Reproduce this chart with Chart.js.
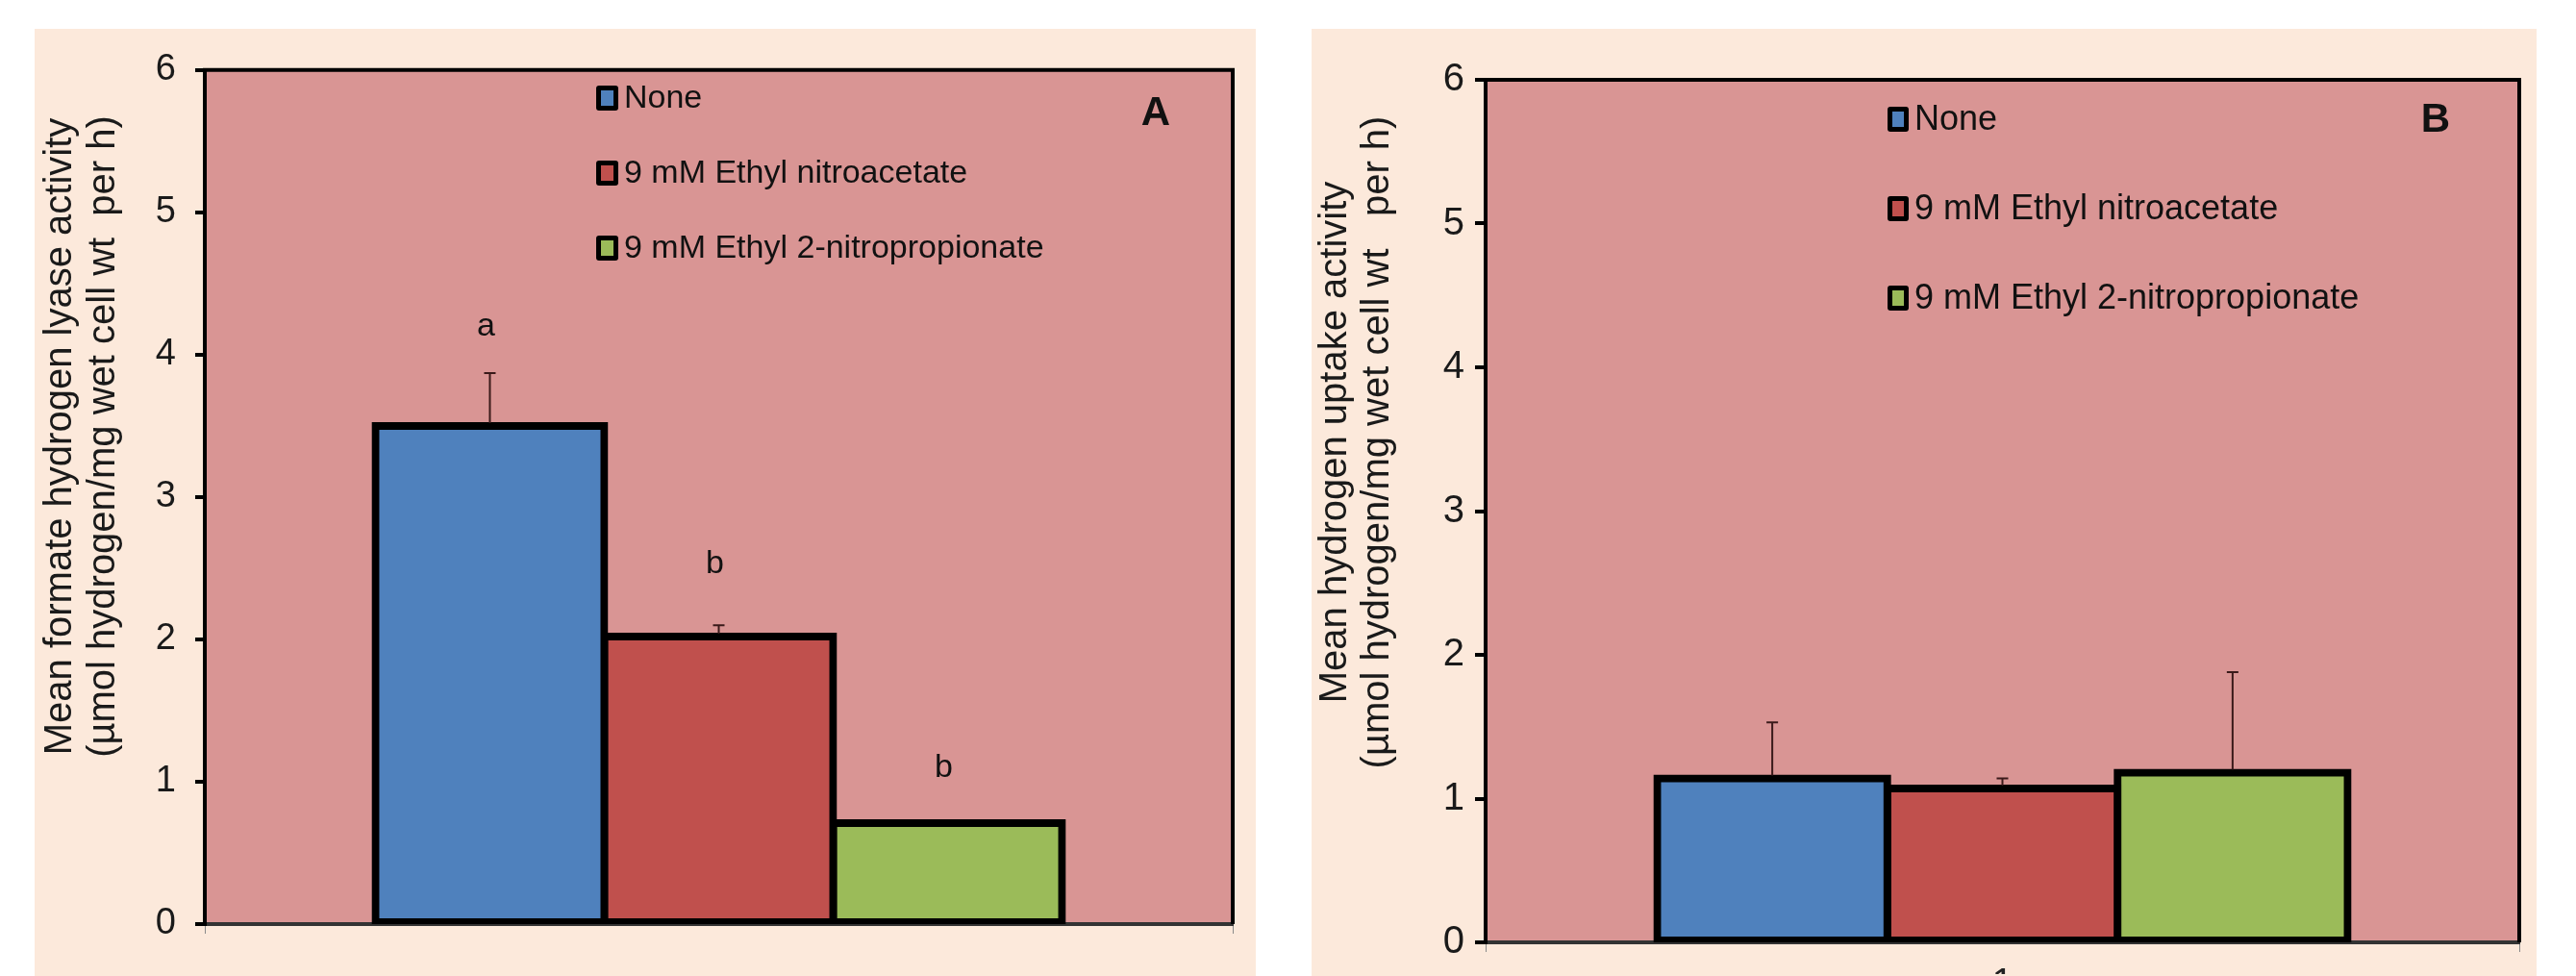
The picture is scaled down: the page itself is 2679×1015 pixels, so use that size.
<!DOCTYPE html>
<html>
<head>
<meta charset="utf-8">
<script src="https://cdn.jsdelivr.net/npm/chart.js@4.4.1/dist/chart.umd.min.js"></script>
<style>
  body { margin: 0; background: #ffffff; width: 2679px; height: 1015px; overflow: hidden; position: relative; }
  canvas { position: absolute; background: #FCE9DB; }
  #chartA { left: 36px; top: 30px; }
  #chartB { left: 1364px; top: 30px; }
</style>
</head>
<body>
<canvas id="chartA" width="1270" height="985"></canvas>
<canvas id="chartB" width="1274" height="985"></canvas>
<script>
// treatments shown in both panels
const treatments = ['None', '9 mM Ethyl nitroacetate', '9 mM Ethyl 2-nitropropionate'];
const barColors = ['#4F81BD', '#C0504D', '#9BBB59'];
const categories = ['1'];

// panel A: formate hydrogen lyase activity
const fhlMeans = [3.50, 2.02, 0.71];
const fhlErrTop = [3.87, 2.10, 0.71];
const fhlLetters = ['a', 'b', 'b'];
const fhlLetterY = [4.20, 2.53, 1.10];

// panel B: hydrogen uptake activity
const uptakeMeans = [1.14, 1.07, 1.18];
const uptakeErrTop = [1.53, 1.14, 1.88];

const yTicks = [0, 1, 2, 3, 4, 5, 6];

const FONT = "'Liberation Sans', Arial, sans-serif";
Chart.defaults.font.family = FONT;
Chart.defaults.font.size = 34;
Chart.defaults.color = '#1a1a1a';

// plot background + top/right frame
const framePlugin = {
    id: 'frame',
    beforeDraw(chart) {
        const a = chart.chartArea, ctx = chart.ctx;
        ctx.save();
        ctx.fillStyle = '#D99594';
        ctx.fillRect(a.left, a.top, a.right - a.left, a.bottom - a.top);
        ctx.restore();
    },
    afterDraw(chart) {
        const a = chart.chartArea, ctx = chart.ctx;
        ctx.save();
        ctx.strokeStyle = '#000';
        ctx.lineWidth = 4;
        ctx.beginPath();
        ctx.moveTo(a.left - 2, a.top);
        ctx.lineTo(a.right, a.top);
        ctx.lineTo(a.right, a.bottom);
        ctx.stroke();
        ctx.restore();
    }
};

// upper error whiskers, letters, legend, panel letter, axis title
const extrasPlugin = {
    id: 'extras',
    afterDatasetsDraw(chart, args, opts) {
        const ctx = chart.ctx;
        const yScale = chart.scales.y;
        ctx.save();
        chart.data.datasets.forEach((ds, i) => {
            const bar = chart.getDatasetMeta(i).data[0];
            const yTop = yScale.getPixelForValue(opts.errTop[i]);
            if (opts.errTop[i] > ds.data[0]) {
                ctx.strokeStyle = '#3a1a1a';
                ctx.lineWidth = 2;
                ctx.beginPath();
                ctx.moveTo(bar.x, bar.y - 3);
                ctx.lineTo(bar.x, yTop);
                ctx.moveTo(bar.x - 6, yTop);
                ctx.lineTo(bar.x + 6, yTop);
                ctx.stroke();
            }
            if (opts.letters) {
                ctx.fillStyle = '#111';
                ctx.font = opts.letterFont + 'px ' + FONT;
                ctx.textAlign = 'center';
                ctx.textBaseline = 'middle';
                ctx.fillText(opts.letters[i], bar.x - 4, yScale.getPixelForValue(opts.letterY[i]));
            }
        });

        // legend
        const lg = opts.legend;
        ctx.font = lg.font + 'px ' + FONT;
        ctx.textAlign = 'left';
        ctx.textBaseline = 'middle';
        chart.data.datasets.forEach((ds, i) => {
            const cy = lg.y + i * lg.gap;
            ctx.fillStyle = '#000';
            ctx.beginPath();
            ctx.roundRect(lg.x, cy - lg.boxH / 2, lg.boxW, lg.boxH, 3);
            ctx.fill();
            ctx.fillStyle = ds.backgroundColor;
            ctx.fillRect(lg.x + 5, cy - lg.boxH / 2 + 5, lg.boxW - 10, lg.boxH - 10);
            ctx.fillStyle = '#111';
            ctx.fillText(ds.label, lg.x + lg.boxW + 6, cy + 1);
        });

        // panel letter
        ctx.font = 'bold ' + opts.panel.font + 'px ' + FONT;
        ctx.textAlign = 'center';
        ctx.fillStyle = '#111';
        ctx.fillText(opts.panel.text, opts.panel.x, opts.panel.y);

        // rotated two-line y title
        const t = opts.yTitle;
        ctx.translate(t.x, t.y);
        ctx.rotate(-Math.PI / 2);
        ctx.font = t.font + 'px ' + FONT;
        ctx.fillStyle = '#1a1a1a';
        ctx.textAlign = 'center';
        ctx.fillText(t.lines[0], 0, 0);
        ctx.fillText(t.lines[1], 0, t.gap);
        ctx.restore();
    }
};

function makeChart(id, means, cfg) {
    const datasets = treatments.map((name, i) => ({
        label: name,
        data: [means[i]],
        backgroundColor: barColors[i],
        borderColor: '#000',
        borderWidth: 8,
        borderSkipped: false,
        inflateAmount: 4,
        barPercentage: 1,
        categoryPercentage: 0.668
    }));
    return new Chart(document.getElementById(id), {
        type: 'bar',
        data: { labels: categories, datasets },
        options: {
            responsive: false,
            animation: false,
            devicePixelRatio: 1,
            layout: { padding: { left: 0, top: cfg.padTop, right: cfg.padRight, bottom: 0 } },
            plugins: {
                legend: { display: false },
                tooltip: { enabled: false },
                extras: cfg.extras
            },
            scales: {
                x: {
                    grid: { display: true, drawOnChartArea: false, tickLength: 10, color: '#8a8a8a', lineWidth: 1, offset: true },
                    border: { display: true, color: '#333', width: 4 },
                    ticks: { display: cfg.showX, color: '#222', padding: 10, font: { family: FONT, size: cfg.tickFont } },
                    afterFit(scale) { scale.height = cfg.xHeight; }
                },
                y: {
                    min: 0,
                    max: 6,
                    afterBuildTicks(scale) { scale.ticks = yTicks.map(v => ({ value: v })); },
                    grid: { display: true, drawOnChartArea: false, tickLength: cfg.tickLen, color: '#000', lineWidth: 4 },
                    border: { display: true, color: '#000', width: 4 },
                    ticks: { color: '#1a1a1a', padding: cfg.tickPad, font: { family: FONT, size: cfg.tickFont } },
                    afterFit(scale) { scale.width = cfg.yWidth; }
                }
            }
        },
        plugins: [framePlugin, extrasPlugin]
    });
}

makeChart('chartA', fhlMeans, {
    padTop: 37, padRight: 24, xHeight: 54, yWidth: 177, showX: false,
    tickFont: 38, tickLen: 10, tickPad: 20,
    extras: {
        errTop: fhlErrTop,
        letters: fhlLetters,
        letterY: fhlLetterY,
        letterFont: 34,
        legend: { x: 584, y: 72, gap: 78, boxW: 23, boxH: 26, font: 34 },
        panel: { text: 'A', x: 1166, y: 88, font: 42 },
        yTitle: {
            x: 27, y: 424, gap: 45, font: 40,
            lines: ['Mean formate hydrogen lyase activity', '(\u00b5mol hydrogen/mg wet cell wt  per h)']
        }
    }
});

makeChart('chartB', uptakeMeans, {
    padTop: 53, padRight: 18, xHeight: 33, yWidth: 181, showX: true,
    tickFont: 40, tickLen: 11, tickPad: 11,
    extras: {
        errTop: uptakeErrTop,
        legend: { x: 599, y: 94, gap: 93, boxW: 22, boxH: 26, font: 36 },
        panel: { text: 'B', x: 1169, y: 95, font: 42 },
        yTitle: {
            x: 25, y: 430, gap: 44, font: 40,
            lines: ['Mean hydrogen uptake activity', '(\u00b5mol hydrogen/mg wet cell wt   per h)']
        }
    }
});
</script>
</body>
</html>
